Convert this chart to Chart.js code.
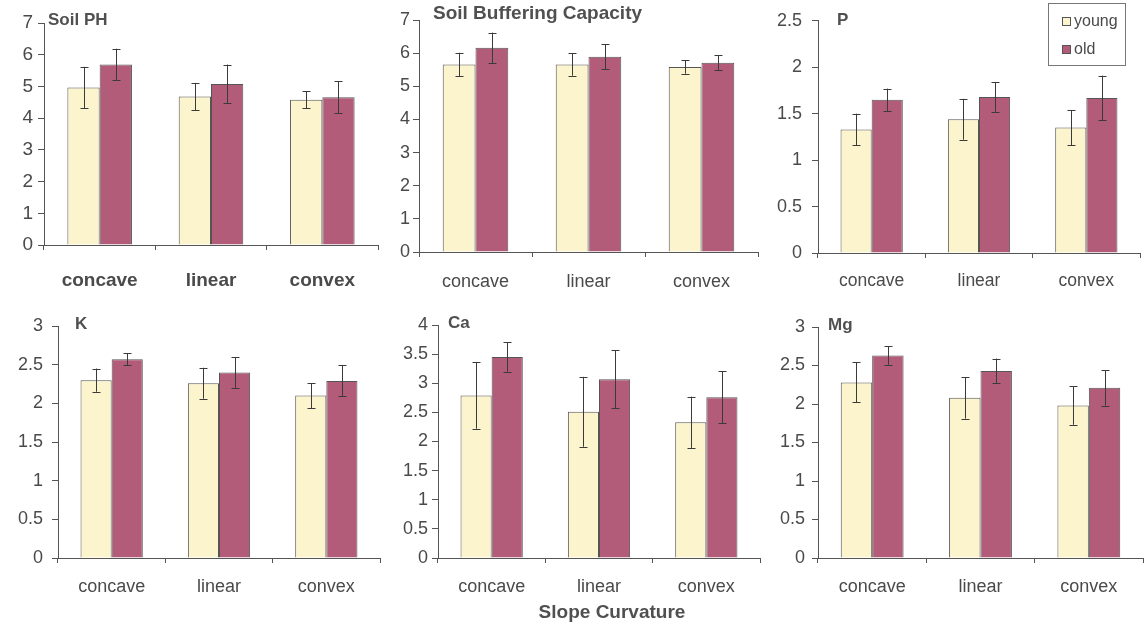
<!DOCTYPE html>
<html><head><meta charset="utf-8">
<script src="https://cdn.jsdelivr.net/npm/chart.js@4.4.1/dist/chart.umd.min.js"></script>
<style>
html,body{margin:0;padding:0;background:#fff;}
#wrap{position:relative;width:1145px;height:627px;overflow:hidden;background:#fff;}
canvas{position:absolute;}
</style></head><body><div id="wrap">
<canvas id="c0"></canvas><canvas id="c1"></canvas><canvas id="c2"></canvas>
<canvas id="c3"></canvas><canvas id="c4"></canvas><canvas id="c5"></canvas>
</div>
<script>
// ---------- data ----------
const categories = ['concave', 'linear', 'convex'];
const seriesNames = ['young', 'old'];
const panelTitles = ['Soil PH', 'Soil Buffering Capacity', 'P', 'K', 'Ca', 'Mg'];
const xAxisTitle = 'Slope Curvature';

const phYoung = [4.97, 4.68, 4.58];   const phYoungErr = [0.65, 0.43, 0.27];
const phOld   = [5.69, 5.08, 4.66];   const phOldErr   = [0.50, 0.61, 0.50];
const sbcYoung = [5.66, 5.66, 5.58];  const sbcYoungErr = [0.35, 0.34, 0.20];
const sbcOld   = [6.16, 5.89, 5.71];  const sbcOldErr   = [0.46, 0.38, 0.23];
const pYoung = [1.33, 1.44, 1.35];    const pYoungErr = [0.17, 0.22, 0.19];
const pOld   = [1.65, 1.68, 1.67];    const pOldErr   = [0.12, 0.16, 0.24];
const kYoung = [2.30, 2.26, 2.10];    const kYoungErr = [0.15, 0.20, 0.16];
const kOld   = [2.57, 2.40, 2.29];    const kOldErr   = [0.08, 0.20, 0.20];
const caYoung = [2.79, 2.51, 2.33];   const caYoungErr = [0.57, 0.60, 0.44];
const caOld   = [3.45, 3.07, 2.76];   const caOldErr   = [0.25, 0.50, 0.45];
const mgYoung = [2.28, 2.08, 1.98];   const mgYoungErr = [0.26, 0.27, 0.25];
const mgOld   = [2.63, 2.43, 2.21];   const mgOldErr   = [0.12, 0.16, 0.23];

const yMax  = [7, 7, 2.5, 3, 4, 3];
const yStep = [1, 1, 0.5, 0.5, 0.5, 0.5];

const panelValues = [
  [phYoung, phOld, phYoungErr, phOldErr],
  [sbcYoung, sbcOld, sbcYoungErr, sbcOldErr],
  [pYoung, pOld, pYoungErr, pOldErr],
  [kYoung, kOld, kYoungErr, kOldErr],
  [caYoung, caOld, caYoungErr, caOldErr],
  [mgYoung, mgOld, mgYoungErr, mgOldErr]
];

// ---------- styling / layout ----------
const FONT = "'Liberation Sans', Arial, sans-serif";
const youngColor = '#fcf4cc';
const oldColor = '#b25c7a';
const edge = '#555555';
const textCol = '#4a4a4a';
// canvas rect [x,y,w,h], plot area [left, top, right, bottom] in page coords
const layouts = [
  {canvas:[0,0,385,300],    area:[44,23,378,245],  yFont:19, yPad:5,  xFont:19, xBold:true,  xPad:19, title:[48,20,17]},
  {canvas:[385,0,380,300],  area:[419,20,758,252], yFont:18, yPad:3,  xFont:18, xBold:false, xPad:14, title:[433,14,19]},
  {canvas:[765,0,380,300],  area:[818,19,1140,253],yFont:18, yPad:10, xFont:17.5,xBold:false,xPad:13, title:[837,20,17]},
  {canvas:[0,300,385,327],  area:[58,326,380,558], yFont:18, yPad:9,  xFont:18, xBold:false, xPad:13, title:[75,324,17]},
  {canvas:[385,300,380,327],area:[438,325,760,558],yFont:18, yPad:4,  xFont:18, xBold:false, xPad:13, title:[448,323,17]},
  {canvas:[765,300,380,327],area:[818,327,1143,558],yFont:18,yPad:7,  xFont:18, xBold:false, xPad:13, title:[828,325,17]}
];

const errorBarPlugin = {
  id: 'errorBars',
  afterDatasetsDraw(chart, args, opts) {
    const ctx = chart.ctx;
    const ys = chart.scales.y;
    ctx.save();
    ctx.strokeStyle = '#3a3a3a';
    ctx.lineWidth = 1;
    chart.data.datasets.forEach((ds, di) => {
      const meta = chart.getDatasetMeta(di);
      meta.data.forEach((bar, i) => {
        const v = ds.data[i], e = ds.errors[i];
        const x = Math.round(bar.x) + 0.5;
        const yt = ys.getPixelForValue(v + e), yb = ys.getPixelForValue(v - e);
        ctx.beginPath();
        ctx.moveTo(x, yt); ctx.lineTo(x, yb);
        ctx.moveTo(x - 4, Math.round(yt) + 0.5); ctx.lineTo(x + 4, Math.round(yt) + 0.5);
        ctx.moveTo(x - 4, Math.round(yb) + 0.5); ctx.lineTo(x + 4, Math.round(yb) + 0.5);
        ctx.stroke();
      });
    });
    ctx.restore();
  }
};

const textPlugin = {
  id: 'panelText',
  afterDraw(chart, args, opts) {
    const ctx = chart.ctx;
    ctx.save();
    ctx.fillStyle = opts.color;
    ctx.textBaseline = 'middle';
    ctx.textAlign = 'left';
    ctx.font = 'bold ' + opts.size + 'px ' + FONT;
    ctx.fillText(opts.text, opts.x, opts.y);
    if (opts.extra) {
      ctx.textAlign = 'center';
      ctx.font = 'bold ' + opts.extra.size + 'px ' + FONT;
      ctx.fillText(opts.extra.text, opts.extra.x, opts.extra.y);
    }
    if (opts.legend) {
      const L = opts.legend;
      ctx.strokeStyle = '#777';
      ctx.lineWidth = 1;
      ctx.strokeRect(L.x + 0.5, L.y + 0.5, L.w, L.h);
      ctx.font = '16px ' + FONT;
      ctx.textAlign = 'left';
      chart.data.datasets.forEach((ds, i) => {
        const cy = L.y + 18 + i * 28;
        ctx.fillStyle = ds.backgroundColor;
        ctx.fillRect(L.x + 14, cy - 4, 9, 9);
        ctx.strokeStyle = '#555';
        ctx.strokeRect(L.x + 14.5, cy - 3.5, 8, 8);
        ctx.fillStyle = textCol;
        ctx.fillText(ds.label, L.x + 26, cy + 1);
      });
    }
    ctx.restore();
  }
};

const fmt = (v) => String(Math.round(v * 100) / 100);

layouts.forEach((L, p) => {
  const cv = document.getElementById('c' + p);
  const [cx, cy, cw, ch] = L.canvas;
  cv.style.left = cx + 'px'; cv.style.top = cy + 'px';
  cv.width = cw; cv.height = ch;
  cv.style.width = cw + 'px'; cv.style.height = ch + 'px';
  const [al, at, ar, ab] = L.area;
  const XH = (cy + ch) - ab;
  const YW = al - cx;
  const vals = panelValues[p];
  const textOpts = {
    text: panelTitles[p], x: L.title[0] - cx, y: L.title[1] - cy, size: L.title[2], color: '#505050'
  };
  if (p === 4) textOpts.extra = {text: xAxisTitle, x: 612 - cx, y: 613 - cy, size: 19};
  if (p === 2) textOpts.legend = {x: 1048 - cx, y: 3 - cy, w: 77, h: 62};

  new Chart(cv, {
    type: 'bar',
    data: {
      labels: categories,
      datasets: [
        {label: seriesNames[0], data: vals[0], errors: vals[2], backgroundColor: youngColor,
         borderColor: edge, borderWidth: 1, borderSkipped: 'bottom'},
        {label: seriesNames[1], data: vals[1], errors: vals[3], backgroundColor: oldColor,
         borderColor: edge, borderWidth: 1, borderSkipped: 'bottom'}
      ]
    },
    options: {
      responsive: false,
      animation: false,
      events: [],
      layout: {padding: {left: 0, top: at - cy, right: (cx + cw) - ar, bottom: 0}},
      datasets: {bar: {categoryPercentage: 0.58, barPercentage: 1.0}},
      plugins: {
        legend: {display: false},
        tooltip: {enabled: false},
        panelText: textOpts
      },
      scales: {
        x: {
          type: 'category',
          offset: true,
          afterFit: (s) => { s.height = XH; },
          grid: {display: true, offset: true, drawOnChartArea: false, drawTicks: true, tickLength: 5, color: edge},
          border: {display: true, color: edge, width: 1},
          ticks: {color: textCol, padding: L.xPad, autoSkip: false, maxRotation: 0,
                  font: {family: FONT, size: L.xFont, weight: L.xBold ? 'bold' : 'normal'}}
        },
        y: {
          min: 0, max: yMax[p],
          afterFit: (s) => { s.width = YW; },
          grid: {display: true, drawOnChartArea: false, drawTicks: true, tickLength: 6, color: edge},
          border: {display: true, color: edge, width: 1},
          ticks: {stepSize: yStep[p], color: textCol, padding: L.yPad, callback: fmt,
                  font: {family: FONT, size: L.yFont}}
        }
      }
    },
    plugins: [errorBarPlugin, textPlugin]
  });
});
</script>
</body></html>
